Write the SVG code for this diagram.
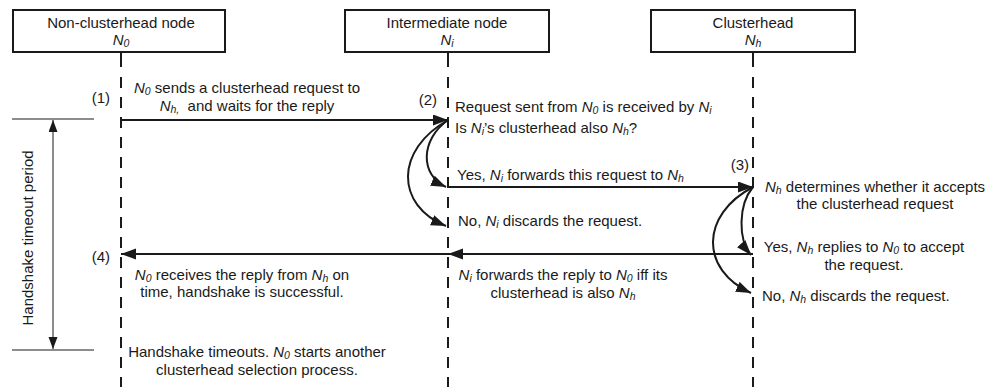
<svg xmlns="http://www.w3.org/2000/svg" width="1002" height="387" viewBox="0 0 1002 387">
<style>
text{font-family:"Liberation Sans",Arial,sans-serif;font-size:15px;fill:#1a1a1a}
.i{font-style:italic}
.s{font-size:10.5px;font-style:italic}
.box{fill:#fff;stroke:#1a1a1a;stroke-width:2}
.life{stroke:#1a1a1a;stroke-width:2;fill:none}
.dash{stroke-dasharray:11 9}
.msg{stroke:#1a1a1a;stroke-width:2;fill:none;marker-end:url(#ah)}
.thin{stroke:#1a1a1a;stroke-width:1;fill:none}
.m{text-anchor:middle}
.e{text-anchor:end}
</style>
<defs>
<marker id="ah" markerUnits="userSpaceOnUse" markerWidth="17" markerHeight="12" refX="15" refY="5.5" orient="auto"><path d="M0,0 L15,5.5 L0,11 Z" fill="#1a1a1a"/></marker>
<marker id="ah2" markerUnits="userSpaceOnUse" markerWidth="14" markerHeight="12" refX="12" refY="4.5" orient="auto-start-reverse"><path d="M0,0 L12,4.5 L0,9 Z" fill="#1a1a1a"/></marker>
</defs>

<g id="node-N0">
<rect class="box" x="13" y="10" width="212" height="42"/>
<text class="m" x="121" y="28">Non-clusterhead node</text>
<text class="m" x="121" y="45"><tspan class="i">N</tspan><tspan class="s" dy="2">0</tspan></text>
<line class="life" x1="121" y1="52" x2="121" y2="67"/>
<line class="life dash" x1="121" y1="77" x2="121" y2="387"/>
</g>

<g id="node-Ni">
<rect class="box" x="345" y="10" width="204" height="42"/>
<text class="m" x="447" y="28">Intermediate node</text>
<text class="m" x="447" y="45"><tspan class="i">N</tspan><tspan class="s" dy="2">i</tspan></text>
<line class="life" x1="448" y1="52" x2="448" y2="67"/>
<line class="life dash" x1="448" y1="77" x2="448" y2="387"/>
</g>

<g id="node-Nh">
<rect class="box" x="651" y="10" width="204" height="42"/>
<text class="m" x="753" y="28">Clusterhead</text>
<text class="m" x="753" y="45"><tspan class="i">N</tspan><tspan class="s" dy="2">h</tspan></text>
<line class="life" x1="753" y1="52" x2="753" y2="67"/>
<line class="life dash" x1="753" y1="77" x2="753" y2="387"/>
</g>

<g id="timeout">
<line class="thin" x1="12" y1="119" x2="94" y2="119"/>
<line class="thin" x1="12" y1="350" x2="94" y2="350"/>
<line class="thin" x1="53" y1="120" x2="53" y2="349" style="marker-start:url(#ah2);marker-end:url(#ah2)"/>
<text class="m" transform="translate(33,238) rotate(-90)">Handshake timeout period</text>
</g>

<g id="connectors">
<line class="msg" x1="121" y1="120" x2="448" y2="120"/>
<path class="msg" d="M448,120 C420,140 420,175 446,187"/>
<path class="msg" d="M448,120 C395,150 395,205 446,226"/>
<line class="msg" x1="448" y1="187" x2="753" y2="187"/>
<path class="msg" d="M753,187 C738,205 738,240 751,255"/>
<path class="msg" d="M753,187 C700,215 700,270 751,293"/>
<line class="msg" x1="753" y1="254" x2="448" y2="254"/>
<line class="msg" x1="448" y1="254" x2="121" y2="254"/>
</g>

<g id="labels">
<text class="e" x="110" y="103">(1)</text>
<text class="m" x="247" y="93"><tspan class="i">N</tspan><tspan class="s" dy="2">0</tspan><tspan dy="-2"> sends a clusterhead request to</tspan></text>
<text class="m" x="247" y="111"><tspan class="i">N</tspan><tspan class="s" dy="2">h,</tspan><tspan dy="-2" xml:space="preserve">  and waits for the reply</tspan></text>

<text class="e" x="437" y="105">(2)</text>
<text x="455" y="112">Request sent from <tspan class="i">N</tspan><tspan class="s" dy="2">0</tspan><tspan dy="-2"> is received by </tspan><tspan class="i">N</tspan><tspan class="s" dy="2">i</tspan></text>
<text x="455" y="133">Is <tspan class="i">N</tspan><tspan class="s" dy="2">i</tspan><tspan dy="-2">’s clusterhead also </tspan><tspan class="i">N</tspan><tspan class="s" dy="2">h</tspan><tspan dy="-2">?</tspan></text>
<text x="457" y="180">Yes, <tspan class="i">N</tspan><tspan class="s" dy="2">i</tspan><tspan dy="-2"> forwards this request to </tspan><tspan class="i">N</tspan><tspan class="s" dy="2">h</tspan></text>
<text x="458" y="226">No, <tspan class="i">N</tspan><tspan class="s" dy="2">i</tspan><tspan dy="-2"> discards the request.</tspan></text>

<text class="e" x="749" y="170">(3)</text>
<text class="m" x="875" y="192"><tspan class="i">N</tspan><tspan class="s" dy="2">h</tspan><tspan dy="-2"> determines whether it accepts</tspan></text>
<text class="m" x="875" y="209">the clusterhead request</text>
<text class="m" x="864" y="252">Yes, <tspan class="i">N</tspan><tspan class="s" dy="2">h</tspan><tspan dy="-2"> replies to </tspan><tspan class="i">N</tspan><tspan class="s" dy="2">0</tspan><tspan dy="-2"> to accept</tspan></text>
<text class="m" x="864" y="270">the request.</text>
<text x="762" y="301">No, <tspan class="i">N</tspan><tspan class="s" dy="2">h</tspan><tspan dy="-2"> discards the request.</tspan></text>

<text class="e" x="110" y="262">(4)</text>
<text class="m" x="242" y="280"><tspan class="i">N</tspan><tspan class="s" dy="2">0</tspan><tspan dy="-2"> receives the reply from </tspan><tspan class="i">N</tspan><tspan class="s" dy="2">h</tspan><tspan dy="-2"> on</tspan></text>
<text class="m" x="242" y="297">time, handshake is successful.</text>
<text class="m" x="563" y="280"><tspan class="i">N</tspan><tspan class="s" dy="2">i</tspan><tspan dy="-2"> forwards the reply to </tspan><tspan class="i">N</tspan><tspan class="s" dy="2">0</tspan><tspan dy="-2"> iff its</tspan></text>
<text class="m" x="563" y="298">clusterhead is also <tspan class="i">N</tspan><tspan class="s" dy="2">h</tspan></text>

<text class="m" x="257" y="357">Handshake timeouts. <tspan class="i">N</tspan><tspan class="s" dy="2">0</tspan><tspan dy="-2"> starts another</tspan></text>
<text class="m" x="257" y="375">clusterhead selection process.</text>
</g>
</svg>
